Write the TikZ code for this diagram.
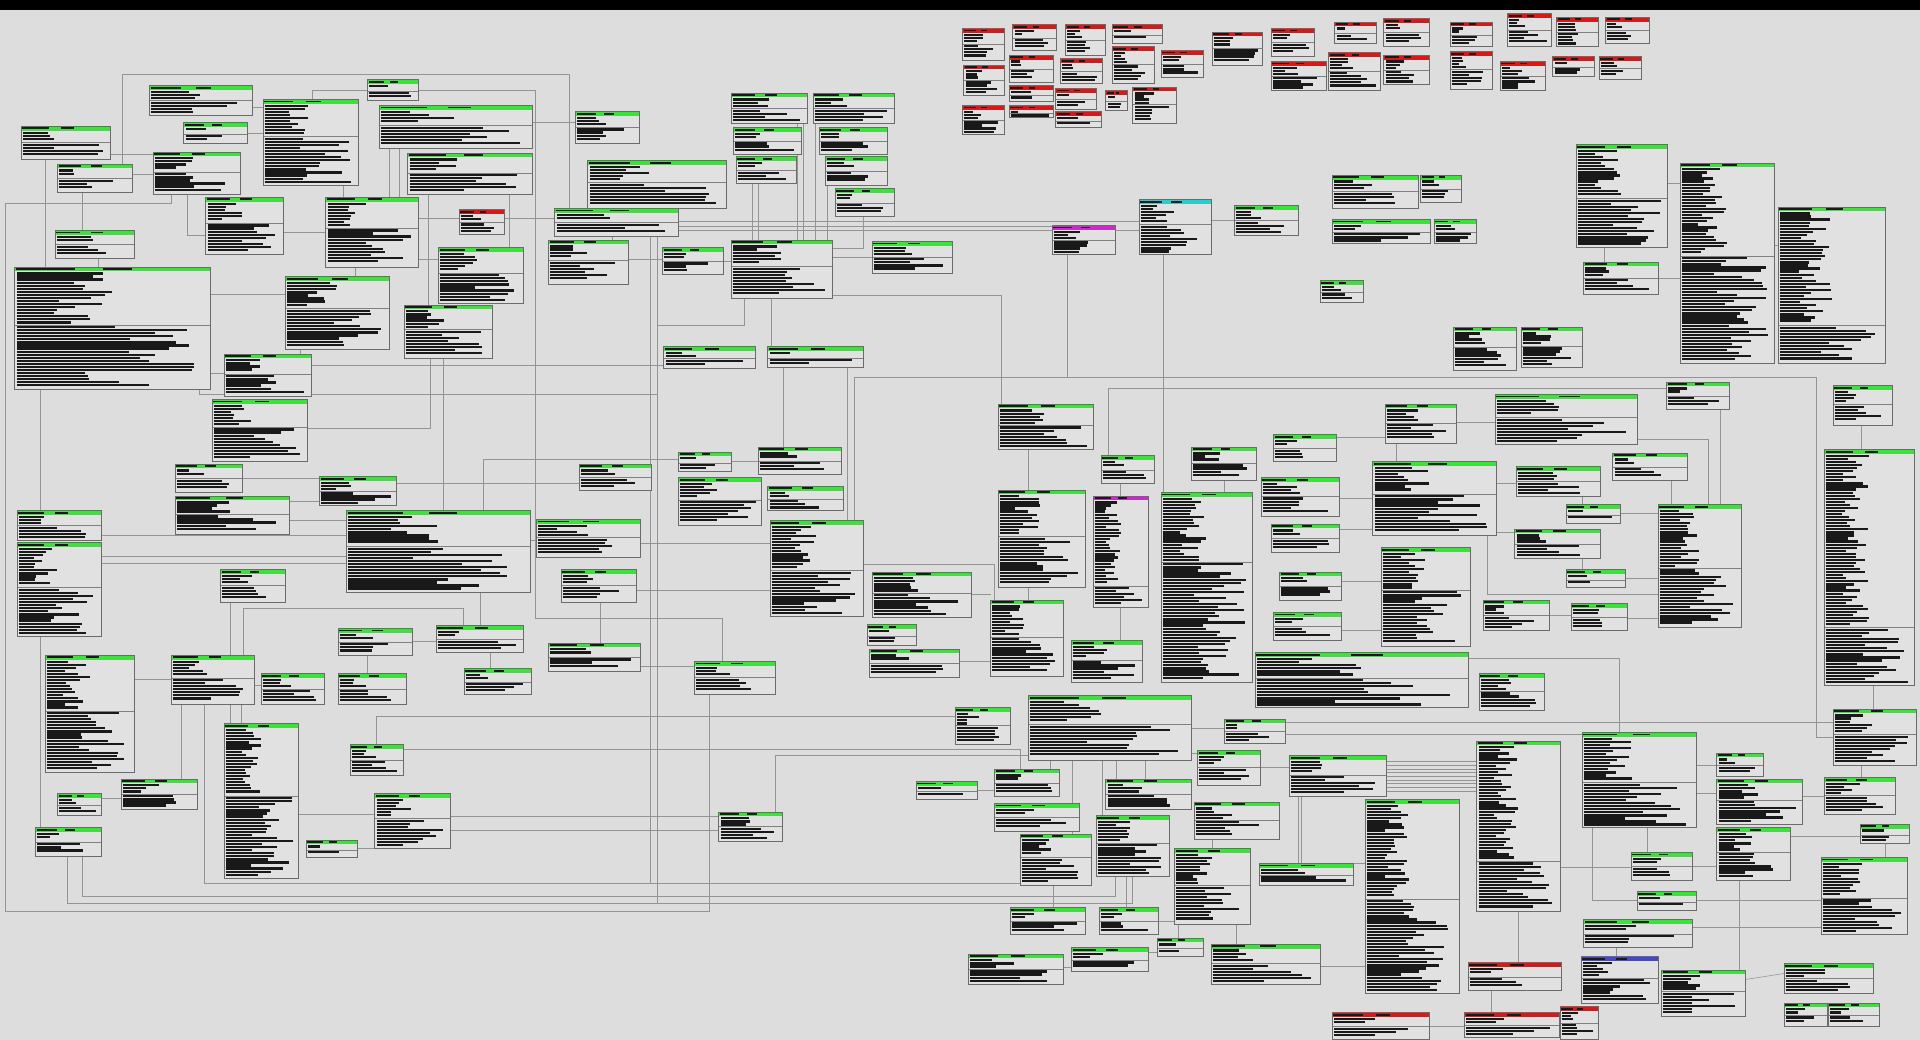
\documentclass[tikz,border=0pt]{standalone}
\usetikzlibrary{fit}
\pgfdeclarelayer{bgfill}
\pgfdeclarelayer{lines}
\pgfsetlayers{bgfill,lines,main}
\definecolor{bgc}{RGB}{221,221,221}
\definecolor{boxc}{RGB}{225,225,225}
\definecolor{hgreen}{RGB}{60,225,60}
\definecolor{hred}{RGB}{215,25,25}
\definecolor{hmag}{RGB}{205,40,205}
\definecolor{hcyan}{RGB}{40,205,205}
\definecolor{hblue}{RGB}{70,70,205}
\tikzset{
 entbox/.style={inner sep=0pt, outer sep=0pt, fill=boxc},
 boxline/.style={draw=black!58, line width=0.8pt},
 txt/.style={fill=black!90},
 conn/.style={draw=black!42, line width=0.8pt},
}
\newcommand{\ent}[7][0.4]{%
 \node[entbox, fit={(#3,#4) (#5,#6)}] (#2) {};
 \fill[#7] (#3,#4) rectangle (#5,#4+3.6);
 \pgfmathsetmacro{\ew}{#5-#3}
 \fill[txt] (#3+1,#4+1.1) rectangle (#3+1+0.3*\ew,#4+2.6);
 \fill[txt] (#3+0.45*\ew,#4+1.1) rectangle (#3+0.6*\ew,#4+2.6);
 \pgfmathsetmacro{\eh}{#6-#4-4.8}
 \pgfmathsetmacro{\edv}{#4+4.4+#1*\eh}
 \pgfmathtruncatemacro{\ena}{max(1,floor(#1*\eh/2.5))}
 \pgfmathtruncatemacro{\enb}{max(1,floor(((1-#1)*\eh-1.5)/2.5))}
 \foreach \i in {1,...,\ena}{\pgfmathsetmacro{\yy}{#4+4.4+(\i-1)*2.5}\pgfmathsetmacro{\ww}{(\ew-3)*(0.18+0.32*rnd)}\fill[txt] (#3+1.5,\yy) rectangle ++(\ww,1.8);}
 \draw[black!50, line width=0.5pt] (#3,\edv) -- (#5,\edv);
 \foreach \i in {1,...,\enb}{\pgfmathsetmacro{\yy}{\edv+1+(\i-1)*2.5}\pgfmathsetmacro{\ww}{(\ew-3)*(0.35+0.6*rnd)}\fill[txt] (#3+1.5,\yy) rectangle ++(\ww,1.8);}
 \draw[boxline] (#3,#4) rectangle (#5,#6);
}
\begin{document}
\begin{tikzpicture}[x=0.06cm,y=-0.06cm]
\pgfmathsetseed{12}
\useasboundingbox (0,0) rectangle (1568,849);
\begin{pgfonlayer}{bgfill}
\fill[bgc] (0,0) rectangle (1568,849);
\fill[black] (0,0) rectangle (1568,8);
\end{pgfonlayer}
% ---------- top-left block
\ent{b1}{17}{103}{90}{130}{hgreen}
\ent{b2}{47}{134}{108}{157}{hgreen}
\ent{b3}{45}{188}{110}{211}{hgreen}
\ent[0.45]{b4}{12}{218}{172}{318}{hgreen}
\ent{b5}{122}{70}{206}{94}{hgreen}
\ent{b6}{150}{100}{202}{117}{hgreen}
\ent{b7}{125}{124}{196}{159}{hgreen}
\ent{b8}{168}{161}{231}{208}{hgreen}
\ent{b9}{215}{81}{293}{151}{hgreen}
\ent{b10}{266}{161}{342}{218}{hgreen}
\ent{b11}{300}{65}{342}{82}{hgreen}
\ent{b12}{310}{86}{435}{121}{hgreen}
\ent{b13}{333}{125}{435}{159}{hgreen}
\ent{b14}{375}{171}{412}{191}{hred}
\ent{b15}{453}{170}{554}{193}{hgreen}
\ent{b16}{470}{91}{522}{117}{hgreen}
\ent{b17}{480}{131}{593}{170}{hgreen}
\ent{b18}{358}{202}{427}{248}{hgreen}
\ent{b19}{233}{226}{318}{285}{hgreen}
\ent{b20}{330}{249}{402}{293}{hgreen}
\ent{b21}{183}{289}{254}{324}{hgreen}
\ent{b22}{173}{326}{251}{377}{hgreen}
\ent{b23}{448}{196}{513}{232}{hgreen}
\ent{b24}{541}{202}{591}{224}{hgreen}
\ent{b25}{597}{196}{680}{244}{hgreen}
\ent{b26}{597}{76}{659}{101}{hgreen}
\ent{b27}{664}{76}{730}{101}{hgreen}
\ent{b28}{599}{104}{654}{126}{hgreen}
\ent{b29}{669}{104}{725}{126}{hgreen}
\ent{b30}{601}{128}{650}{150}{hgreen}
\ent{b31}{674}{128}{725}{151}{hgreen}
\ent{b32}{682}{154}{730}{177}{hgreen}
\ent{b33}{712}{197}{778}{223}{hgreen}
\ent{b34}{542}{283}{617}{301}{hgreen}
\ent{b35}{627}{283}{705}{300}{hgreen}
\ent{b36}{859}{184}{911}{208}{hmag}
\ent{b37}{930}{163}{989}{208}{hcyan}
\ent{b38}{1008}{168}{1060}{192}{hgreen}
\ent{b39}{1088}{143}{1158}{170}{hgreen}
\ent{b40}{1160}{143}{1193}{165}{hgreen}
\ent{b41}{1088}{179}{1168}{199}{hgreen}
\ent{b42}{1171}{179}{1206}{199}{hgreen}
\ent{b43}{1078}{229}{1113}{247}{hgreen}
\ent[0.5]{b44}{1287}{118}{1362}{202}{hgreen}
\ent[0.45]{b45}{1372}{133}{1449}{297}{hgreen}
\ent[0.75]{b46}{1452}{169}{1540}{297}{hgreen}
\ent{b47}{1293}{214}{1354}{240}{hgreen}
\ent{b48}{1187}{267}{1238}{302}{hgreen}
\ent{b49}{1242}{267}{1292}{300}{hgreen}
% ---------- red group top
\ent{r1}{786}{23}{820}{49}{hred}
\ent{r2}{827}{20}{863}{41}{hred}
\ent{r3}{870}{20}{903}{45}{hred}
\ent{r4}{908}{20}{949}{35}{hred}
\ent{r5}{787}{53}{820}{78}{hred}
\ent{r6}{824}{45}{860}{67}{hred}
\ent{r7}{866}{48}{900}{68}{hred}
\ent{r8}{908}{38}{943}{68}{hred}
\ent{r9}{948}{41}{983}{63}{hred}
\ent{r10}{990}{26}{1031}{53}{hred}
\ent{r11}{1038}{23}{1073}{46}{hred}
\ent{r12}{786}{86}{820}{110}{hred}
\ent{r13}{824}{70}{860}{83}{hred}
\ent{r14}{824}{86}{860}{96}{hred}
\ent{r15}{862}{72}{895}{89}{hred}
\ent{r16}{862}{91}{899}{104}{hred}
\ent{r17}{903}{74}{921}{90}{hred}
\ent{r18}{925}{71}{961}{101}{hred}
\ent{r19}{1038}{50}{1083}{74}{hred}
\ent{r20}{1090}{18}{1124}{35}{hred}
\ent{r21}{1130}{15}{1167}{38}{hred}
\ent{r22}{1184}{18}{1219}{38}{hred}
\ent{r23}{1231}{11}{1267}{38}{hred}
\ent{r24}{1271}{14}{1305}{38}{hred}
\ent{r25}{1311}{14}{1347}{35}{hred}
\ent{r26}{1085}{43}{1127}{74}{hred}
\ent{r27}{1130}{45}{1167}{69}{hred}
\ent{r28}{1184}{42}{1219}{73}{hred}
\ent{r29}{1225}{50}{1262}{74}{hred}
\ent{r30}{1268}{46}{1302}{62}{hred}
\ent{r31}{1306}{46}{1340}{65}{hred}
% ---------- middle left
\ent{b50}{143}{379}{198}{402}{hgreen}
\ent{b51}{143}{405}{236}{436}{hgreen}
\ent{b52}{261}{389}{324}{413}{hgreen}
\ent{bbig}{283}{417}{433}{484}{hgreen}
\ent{b53}{14}{417}{83}{441}{hgreen}
\ent[0.45]{b54}{14}{443}{83}{520}{hgreen}
\ent{b55}{180}{465}{233}{492}{hgreen}
\ent{b56}{438}{424}{523}{455}{hgreen}
\ent{b57}{473}{379}{532}{400}{hgreen}
\ent{b58}{458}{465}{520}{492}{hgreen}
\ent[0.45]{b59}{37}{535}{110}{631}{hgreen}
\ent{b60}{140}{535}{208}{575}{hgreen}
\ent{b61}{213}{550}{265}{575}{hgreen}
\ent{b62}{276}{513}{337}{535}{hgreen}
\ent{b63}{356}{511}{427}{533}{hgreen}
\ent{b64}{276}{550}{332}{575}{hgreen}
\ent{b65}{379}{546}{434}{567}{hgreen}
\ent{b66}{448}{525}{523}{548}{hgreen}
\ent{b67}{554}{369}{597}{385}{hgreen}
\ent{b68}{619}{365}{687}{387}{hgreen}
\ent{b69}{554}{390}{622}{429}{hgreen}
\ent{b70}{627}{397}{689}{417}{hgreen}
\ent[0.5]{b71}{629}{425}{705}{503}{hgreen}
\ent{b72}{815}{330}{893}{367}{hgreen}
\ent{b73}{899}{372}{943}{395}{hgreen}
\ent{b74}{973}{365}{1026}{392}{hgreen}
\ent[0.45]{b75}{815}{400}{886}{480}{hgreen}
\ent[0.8]{b76}{893}{405}{938}{496}{hmag}
\ent[0.35]{b77}{948}{402}{1023}{557}{hgreen}
\ent{b78}{712}{467}{793}{504}{hgreen}
\ent{b79}{708}{510}{748}{527}{hgreen}
\ent{b80}{710}{530}{783}{553}{hgreen}
\ent[0.45]{b81}{809}{490}{868}{552}{hgreen}
\ent{b82}{875}{523}{933}{557}{hgreen}
\ent{b83}{567}{540}{633}{567}{hgreen}
% ---------- right middle
\ent{b84}{1361}{312}{1412}{334}{hgreen}
\ent{b85}{1497}{315}{1545}{347}{hgreen}
\ent[0.75]{b86}{1490}{367}{1563}{560}{hgreen}
\ent{b87}{1221}{322}{1337}{363}{hgreen}
\ent{b88}{1131}{330}{1189}{362}{hgreen}
\ent{b89}{1040}{355}{1091}{377}{hgreen}
\ent{b90}{1317}{370}{1378}{392}{hgreen}
\ent{b91}{1121}{377}{1222}{437}{hgreen}
\ent{b92}{1238}{381}{1307}{405}{hgreen}
\ent{b93}{1030}{390}{1094}{422}{hgreen}
\ent{b94}{1279}{412}{1323}{427}{hgreen}
\ent[0.5]{b95}{1354}{412}{1422}{512}{hgreen}
\ent{b96}{1038}{428}{1094}{451}{hgreen}
\ent{b97}{1237}{432}{1307}{456}{hgreen}
\ent[0.4]{b98}{1128}{447}{1201}{528}{hgreen}
\ent{b99}{1279}{465}{1327}{480}{hgreen}
\ent{b100}{1045}{467}{1095}{490}{hgreen}
\ent{b101}{1040}{500}{1095}{523}{hgreen}
\ent{b102}{1211}{490}{1265}{515}{hgreen}
\ent{b103}{1283}{493}{1329}{515}{hgreen}
\ent{b104}{1025}{533}{1199}{578}{hgreen}
\ent{b105}{1208}{550}{1261}{580}{hgreen}
% ---------- bottom left
\ent{b106}{99}{636}{161}{661}{hgreen}
\ent{b107}{47}{648}{83}{666}{hgreen}
\ent{b108}{29}{676}{83}{699}{hgreen}
\ent[0.45]{b109}{183}{591}{244}{717}{hgreen}
\ent{b110}{286}{608}{329}{633}{hgreen}
\ent{b111}{306}{648}{368}{693}{hgreen}
\ent{b112}{250}{686}{292}{700}{hgreen}
% ---------- bottom middle
\ent{b113}{780}{578}{825}{608}{hgreen}
\ent{b114}{840}{568}{973}{621}{hgreen}
\ent{b115}{1000}{587}{1050}{607}{hgreen}
\ent{b116}{978}{613}{1029}{641}{hgreen}
\ent{b117}{748}{638}{798}{653}{hgreen}
\ent{b118}{812}{628}{865}{650}{hgreen}
\ent{b119}{903}{636}{973}{661}{hgreen}
\ent{b120}{812}{656}{881}{679}{hgreen}
\ent{b121}{975}{655}{1045}{685}{hgreen}
\ent{b122}{587}{663}{639}{687}{hgreen}
\ent{b123}{895}{666}{955}{716}{hgreen}
\ent{b124}{833}{681}{891}{723}{hgreen}
\ent[0.45]{b125}{959}{693}{1021}{755}{hgreen}
\ent{b126}{1028}{705}{1105}{723}{hgreen}
\ent{b127}{825}{741}{886}{763}{hgreen}
\ent{b128}{898}{741}{946}{763}{hgreen}
\ent{b129}{945}{766}{983}{781}{hgreen}
\ent{b130}{875}{774}{938}{793}{hgreen}
\ent{b131}{791}{779}{868}{804}{hgreen}
\ent{b132}{989}{771}{1078}{804}{hgreen}
% ---------- bottom right
\ent{b133}{1053}{617}{1132}{650}{hgreen}
\ent[0.5]{b134}{1115}{653}{1192}{811}{hgreen}
\ent[0.7]{b135}{1206}{605}{1274}{744}{hgreen}
\ent[0.5]{b136}{1292}{598}{1385}{676}{hgreen}
\ent{b137}{1402}{615}{1440}{634}{hgreen}
\ent{b138}{1402}{636}{1472}{673}{hgreen}
\ent{b139}{1490}{635}{1548}{665}{hgreen}
\ent{b140}{1497}{579}{1565}{625}{hgreen}
\ent{b141}{1519}{673}{1559}{689}{hgreen}
\ent{b142}{1332}{696}{1382}{719}{hgreen}
\ent{b143}{1402}{676}{1462}{719}{hgreen}
\ent[0.5]{b144}{1487}{700}{1558}{763}{hgreen}
\ent{b145}{1337}{728}{1385}{743}{hgreen}
\ent{b146}{1293}{751}{1382}{774}{hgreen}
\ent{b147}{1291}{781}{1354}{819}{hblue}
\ent{b148}{1357}{792}{1425}{830}{hgreen}
\ent{b149}{1457}{787}{1530}{811}{hgreen}
\ent{b150}{1457}{819}{1492}{838}{hgreen}
\ent{b151}{1493}{819}{1535}{838}{hgreen}
\ent{r32}{1199}{786}{1275}{809}{hred}
\ent{r33}{1088}{827}{1167}{849}{hred}
\ent{r34}{1196}{827}{1273}{847}{hred}
\ent{r35}{1274}{822}{1305}{849}{hred}
% ---------- free ends
\coordinate (j2) at (537,322);
\coordinate (j3) at (531,721);
\coordinate (j4) at (537,738);
\coordinate (j5) at (537,266);
\coordinate (j6) at (872,308);
% ---------- connectors
\begin{pgfonlayer}{lines}
\draw[conn] (b2.north -| 100,0) |- (465,61) -- (b15.north -| 465,0);
\draw[conn] (b11.east) -| (437,505) -| (b83.north -| 590,0);
\draw[conn] (b7.south -| 140,0) |- (4,166) |- (579,744) -- (b83.south -| 579,0);
\draw[conn] (b60.south -| 167,0) |- (840,721) -- (b124.south -| 840,0);
\draw[conn] (b108.south -| 67,0) |- (911,732) -- (b123.south -| 911,0);
\draw[conn] (b108.south -| 55,0) |- (925,738) -- (b123.south -| 925,0);
\draw[conn] (b110.north -| 307,0) |- (b113.west |- 0,585);
\draw[conn] (b110.east |- 0,612) -| (b118.north -| 833,0);
\draw[conn] (b122.north -| 633,0) |- (b114.west |- 0,617);
\draw[conn] (b117.east) -- (b118.west |- b117.east);
\draw[conn] (b109.east |- 0,665) -- (b111.west |- 0,665);
\draw[conn] (b112.east) -- (b111.west |- b112.east);
\draw[conn] (b111.east |- 0,667) -- (b122.west |- 0,667);
\draw[conn] (b111.east |- 0,678) -- (b122.west |- 0,678);
\draw[conn] (b60.south -| 188,0) -- (b109.north -| 188,0);
\draw[conn] (b60.south -| 197,0) -- (b109.north -| 197,0);
\draw[conn] (b106.north -| 148,0) -- (b60.south -| 148,0);
\draw[conn] (b107.east |- 0,652) -- (b106.west |- 0,652);
\draw[conn] (b59.east |- 0,555) -- (b60.west |- 0,555);
\draw[conn] (b54.south -| 33,0) -- (b108.north -| 33,0);
\draw[conn] (b4.south -| 33,0) -- (b53.north -| 33,0);
\draw[conn] (b53.east |- 0,437) -- (bbig.west |- 0,437);
\draw[conn] (b54.east |- 0,454) -- (bbig.west |- 0,454);
\draw[conn] (b54.east |- 0,460) -- (bbig.west |- 0,460);
\draw[conn] (b51.east |- 0,409) -- (b52.west |- 0,409);
\draw[conn] (b51.east |- 0,425) -- (bbig.west |- 0,425);
\draw[conn] (b50.east) -- (b52.west |- b50.east);
\draw[conn] (b22.east |- 0,350) -| (b20.south -| 351,0);
\draw[conn] (b20.south -| 362,0) -- (bbig.north -| 362,0);
\draw[conn] (b21.east |- 0,298) -- (b34.west |- 0,298);
\draw[conn] (b4.south -| 163,0) |- (j2);
\draw[conn] (b56.west |- 0,441) -- (bbig.east |- 0,441);
\draw[conn] (bbig.south -| 392,0) -- (b63.north -| 392,0);
\draw[conn] (b60.north -| 199,0) |- (378,497) -- (b63.north -| 378,0);
\draw[conn] (b55.south -| 188,0) -- (b60.north -| 188,0);
\draw[conn] (b58.south -| 490,0) -- (b66.north -| 490,0);
\draw[conn] (b62.east) -- (b63.west |- b62.east);
\draw[conn] (b62.south -| 300,0) -- (b64.north -| 300,0);
\draw[conn] (b63.south -| 400,0) -- (b65.north -| 400,0);
\draw[conn] (b60.east |- 0,560) -- (b61.west |- 0,560);
\draw[conn] (b52.east |- 0,395) -- (b57.west |- 0,395);
\draw[conn] (bbig.north -| 395,0) |- (b67.west |- 0,375);
\draw[conn] (b56.east |- 0,444) -- (b71.west |- 0,444);
\draw[conn] (b58.east |- 0,482) -- (b71.west |- 0,482);
\draw[conn] (b67.east) -- (b68.west |- b67.east);
\draw[conn] (b35.south -| 640,0) -- (b68.north -| 640,0);
\draw[conn] (b35.south -| 692,0) -- (b71.north -| 692,0);
\draw[conn] (b15.south -| 531,0) -- (j3);
\draw[conn] (b15.south -| 537,0) -- (j4);
\draw[conn] (b66.east |- 0,544) -- (b83.west |- 0,544);
\draw[conn] (b1.east |- 0,126) -- (b7.west |- 0,126);
\draw[conn] (b2.east |- 0,142) -- (b7.west |- 0,142);
\draw[conn] (b2.south -| 67,0) -- (b3.north -| 67,0);
\draw[conn] (b1.south -| 37,0) -- (b4.north -| 37,0);
\draw[conn] (b3.south -| 80,0) -- (b4.north -| 80,0);
\draw[conn] (b5.east |- 0,88) -- (b9.west |- 0,88);
\draw[conn] (b6.east) -- (b9.west |- b6.east);
\draw[conn] (b7.south -| 153,0) |- (b8.west |- 0,192);
\draw[conn] (b8.east |- 0,190) -- (b10.west |- 0,190);
\draw[conn] (b9.south -| 280,0) -- (b10.north -| 280,0);
\draw[conn] (b12.south -| 318,0) -- (b10.north -| 318,0);
\draw[conn] (b12.south -| 326,0) -- (b10.north -| 326,0);
\draw[conn] (b10.east |- 0,178) -- (b14.west |- 0,178);
\draw[conn] (b14.east |- 0,178) -- (b15.west |- 0,178);
\draw[conn] (b10.east |- 0,212) -- (b18.west |- 0,212);
\draw[conn] (b10.south -| 290,0) -- (b19.north -| 290,0);
\draw[conn] (b13.south -| 350,0) -- (b20.north -| 350,0);
\draw[conn] (b13.south -| 416,0) -- (b18.north -| 416,0);
\draw[conn] (b17.south -| 500,0) -- (b23.north -| 500,0);
\draw[conn] (b12.east |- 0,100) -- (b16.west |- 0,100);
\draw[conn] (b19.south -| 245,0) -- (b21.north -| 245,0);
\draw[conn] (b4.east |- 0,240) -- (b19.west |- 0,240);
\draw[conn] (b4.east |- 0,305) -- (b21.west |- 0,305);
\draw[conn] (b23.east |- 0,212) -- (b24.west |- 0,212);
\draw[conn] (b24.east) -- (b25.west |- b24.east);
\draw[conn] (b25.east |- 0,210) -- (b33.west |- 0,210);
\draw[conn] (b25.east |- 0,241) -| (b72.north -| 818,0);
\draw[conn] (b25.south -| 608,0) |- (j5);
\draw[conn] (b25.south -| 630,0) -- (b35.north -| 630,0);
\draw[conn] (b9.north -| 255,0) |- (b11.west);
\draw[conn] (b30.south -| 614,0) -- (b25.north -| 614,0);
\draw[conn] (b30.south -| 619,0) -- (b25.north -| 619,0);
\draw[conn] (b26.south -| 651,0) -- (b25.north -| 651,0);
\draw[conn] (b26.south -| 656,0) -- (b25.north -| 656,0);
\draw[conn] (b27.south -| 666,0) -- (b25.north -| 666,0);
\draw[conn] (b31.south -| 676,0) -- (b25.north -| 676,0);
\draw[conn] (b32.south -| 705,0) |- (b25.east |- 0,203);
\draw[conn] (b15.east |- 0,181) -- (b37.west |- 0,181);
\draw[conn] (b15.east |- 0,188) -- (b37.west |- 0,188);
\draw[conn] (b15.east |- 0,185) -- (b36.west |- 0,185);
\draw[conn] (b36.south -| 872,0) -- (j6);
\draw[conn] (b37.south -| 950,0) -- (b77.north -| 950,0);
\draw[conn] (b37.east |- 0,180) -- (b38.west |- 0,180);
\draw[conn] (b81.north -| 812,0) |- (698,461) |- (1483,308) |- (b140.west);
\draw[conn] (b73.north -| 905,0) |- (b84.west |- 0,317);
\draw[conn] (b88.east |- 0,345) -- (b87.west |- 0,345);
\draw[conn] (b88.south -| 1140,0) -- (b91.north -| 1140,0);
\draw[conn] (b89.east |- 0,357) -- (b88.west |- 0,357);
\draw[conn] (b93.east |- 0,407) -- (b91.west |- 0,407);
\draw[conn] (b96.east |- 0,432) -- (b91.west |- 0,432);
\draw[conn] (b91.east |- 0,395) -- (b92.west |- 0,395);
\draw[conn] (b91.east |- 0,435) -- (b97.west |- 0,435);
\draw[conn] (b97.south -| 1292,0) -- (b99.north -| 1292,0);
\draw[conn] (b92.south -| 1292,0) -- (b94.north -| 1292,0);
\draw[conn] (b94.east) -- (b95.west |- b94.east);
\draw[conn] (b99.east) -- (b95.west |- b99.east);
\draw[conn] (b90.south -| 1365,0) -- (b95.north -| 1365,0);
\draw[conn] (b84.south -| 1405,0) -- (b95.north -| 1405,0);
\draw[conn] (b87.east |- 0,359) -| (b95.north -| 1395,0);
\draw[conn] (b102.east) -- (b103.west |- b102.east);
\draw[conn] (b103.east |- 0,505) -- (b95.west |- 0,505);
\draw[conn] (b91.south -| 1215,0) |- (b95.west |- 0,485);
\draw[conn] (b101.east |- 0,515) -- (b98.west |- 0,515);
\draw[conn] (b100.east |- 0,475) -- (b98.west |- 0,475);
\draw[conn] (b104.east |- 0,538) -| (b136.north -| 1322,0);
\draw[conn] (b115.east |- 0,590) -- (b140.west |- 0,590);
\draw[conn] (b115.east |- 0,600) -- (b136.west |- 0,600);
\draw[conn] (b74.south -| 1000,0) -- (b77.north -| 1000,0);
\draw[conn] (b73.south -| 915,0) -- (b76.north -| 915,0);
\draw[conn] (b72.south -| 840,0) -- (b75.north -| 840,0);
\draw[conn] (b76.south -| 915,0) -- (b82.north -| 915,0);
\draw[conn] (b75.south -| 840,0) -- (b81.north -| 840,0);
\draw[conn] (b78.east) -- (b81.west |- b78.east);
\draw[conn] (b80.east |- 0,540) -- (b81.west |- 0,540);
\draw[conn] (b114.south -| 858,0) -- (b118.north -| 858,0);
\draw[conn] (b114.south -| 876,0) -- (b124.north -| 876,0);
\draw[conn] (b114.south -| 900,0) -- (b123.north -| 900,0);
\draw[conn] (b114.south -| 912,0) -- (b119.north -| 912,0);
\draw[conn] (b114.south -| 935,0) -- (b119.north -| 935,0);
\draw[conn] (b121.south -| 990,0) -- (b125.north -| 990,0);
\draw[conn] (b123.south -| 920,0) -- (b128.north -| 920,0);
\draw[conn] (b124.south -| 860,0) -- (b127.north -| 860,0);
\draw[conn] (b128.east) -| (b129.north -| 962,0);
\draw[conn] (b125.south -| 1010,0) -- (b132.north -| 1010,0);
\draw[conn] (b116.east) -| (b126.north -| 1060,0);
\draw[conn] (b131.east |- 0,790) -- (b130.west |- 0,790);
\draw[conn] (b130.east |- 0,778) -- (b129.west |- 0,778);
\draw[conn] (b114.east |- 0,595) -- (b115.west |- 0,595);
\draw[conn] (b114.east |- 0,615) -- (b116.west |- 0,615);
\foreach \yy in {622,625,...,646} \draw[conn] (b133.east |- 0,\yy) -- (b135.west |- 0,\yy);
\draw[conn] (b133.south -| 1063,0) |- (b134.west |- 0,705);
\draw[conn] (b132.east |- 0,789) -- (b134.west |- 0,789);
\draw[conn] (r32.south -| 1218,0) -- (r34.north -| 1218,0);
\draw[conn] (r33.east) -- (r34.west |- r33.east);
\draw[conn] (b135.south -| 1240,0) -- (r32.north -| 1240,0);
\draw[conn] (b136.east |- 0,625) -- (b137.west |- 0,625);
\draw[conn] (b136.east |- 0,648) -- (b138.west |- 0,648);
\draw[conn] (b136.south -| 1345,0) -- (b142.north -| 1345,0);
\draw[conn] (b142.east) -- (b143.west |- b142.east);
\draw[conn] (b138.east |- 0,650) -- (b139.west |- 0,650);
\draw[conn] (b140.south -| 1520,0) -- (b139.north -| 1520,0);
\draw[conn] (b141.south -| 1540,0) -- (b144.north -| 1540,0);
\draw[conn] (b143.east |- 0,683) -- (b141.west |- 0,683);
\draw[conn] (b145.east) -- (b144.west |- b145.east);
\draw[conn] (b146.east |- 0,757) -- (b144.west |- 0,757);
\draw[conn] (b148.east |- 0,800) -- (b149.west |- 0,795);
\draw[conn] (b85.south -| 1520,0) -- (b86.north -| 1520,0);
\draw[conn] (b86.south -| 1530,0) -- (b140.north -| 1530,0);
\draw[conn] (b44.south -| 1310,0) -- (b47.north -| 1310,0);
\draw[conn] (b47.east) -- (b45.west |- b47.east);
\draw[conn] (b44.east |- 0,150) -- (b45.west |- 0,150);
\draw[conn] (b45.east |- 0,200) -- (b46.west |- 0,200);
\draw[conn] (b135.east |- 0,708) -- (b142.west |- 0,708);
\draw[conn] (b136.south -| 1300,0) |- (b145.west);
\draw[conn] (b143.south -| 1420,0) -- (b148.north -| 1420,0);
\draw[conn] (b147.north -| 1320,0) -- (b146.south -| 1320,0);
\end{pgfonlayer}
\end{tikzpicture}
\end{document}
